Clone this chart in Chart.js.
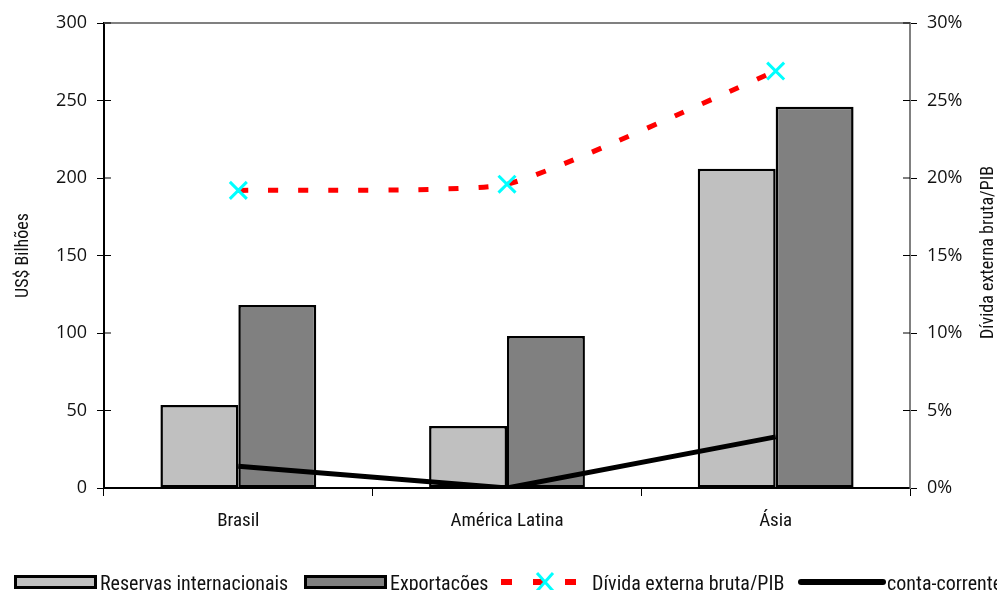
<!DOCTYPE html>
<html>
<head>
<meta charset="utf-8">
<script src="https://cdn.jsdelivr.net/npm/chart.js@4"></script>
<style>
  html, body { margin: 0; padding: 0; background: #fff; }
  #wrap { position: relative; width: 997px; height: 590px; overflow: hidden; }
  #legend { position: absolute; left: 0; top: 568px; height: 30px; width: 1100px; font-family: "Roboto Condensed", "Open Sans", sans-serif; font-size: 20px; color: #111; white-space: nowrap; }
  #legend .sym, #legend .txt { position: absolute; top: 0; }
  #legend .box { position: absolute; top: 7px; width: 83px; height: 14px; border: 3px solid #000; box-sizing: border-box; }
  #legend .txt { line-height: 26px; top: 2px; }
</style>
</head>
<body>
<div id="wrap">
  <canvas id="chart" width="997" height="590"></canvas>
  <div id="legend"></div>
</div>
<script>
const categories = ["Brasil", "América Latina", "Ásia"];
const reservas = [53.5, 40, 206];
const exportacoes = [118, 98, 246];
const dividaPib = [19.2, 19.6, 26.9];
const contaCorrente = [1.4, 0, 3.3];
const seriesNames = ["Reservas internacionais", "Exportações", "Dívida externa bruta/PIB", "conta-corrente"];
const yTitle = "US$ Bilhões";
const y2Title = "Dívida externa bruta/PIB";

const fontFamily = '"Roboto Condensed", "Open Sans", sans-serif';
const tickFont = { family: fontFamily, size: 19 };
const numFont = { family: '"Open Sans", sans-serif', size: 18 };

// tick marks crossing the axes, grey top border, right axis title (read bottom to top)
const frame = {
  id: "frame",
  afterDraw(chart) {
    const ctx = chart.ctx;
    const a = chart.chartArea;
    ctx.save();
    ctx.lineWidth = 2;
    ctx.strokeStyle = "#808080";
    ctx.beginPath();
    ctx.moveTo(a.left, a.top);
    ctx.lineTo(a.right, a.top);
    ctx.stroke();
    ctx.lineWidth = 1;
    ctx.strokeStyle = "#000";
    chart.scales.y.ticks.forEach(t => {
      const py = chart.scales.y.getPixelForValue(t.value);
      ctx.beginPath();
      ctx.moveTo(a.left, py);
      ctx.lineTo(a.left + 7, py);
      ctx.stroke();
    });
    chart.scales.y2.ticks.forEach(t => {
      const py = chart.scales.y2.getPixelForValue(t.value);
      ctx.beginPath();
      ctx.moveTo(a.right - 7, py);
      ctx.lineTo(a.right, py);
      ctx.stroke();
    });
    ctx.fillStyle = "#111";
    ctx.font = "18px " + fontFamily;
    ctx.textAlign = "center";
    ctx.textBaseline = "middle";
    ctx.translate(988, (a.top + a.bottom) / 2 - 3);
    ctx.rotate(-Math.PI / 2);
    ctx.fillText(y2Title, 0, 0);
    ctx.restore();
  }
};

new Chart(document.getElementById("chart").getContext("2d"), {
  type: "bar",
  data: {
    labels: categories,
    datasets: [
      {
        type: "line",
        label: seriesNames[3],
        data: contaCorrente,
        yAxisID: "y2",
        borderColor: "#000",
        borderWidth: 5,
        pointRadius: 0,
        tension: 0,
        order: 0
      },
      {
        type: "line",
        label: seriesNames[2],
        data: dividaPib,
        yAxisID: "y2",
        borderColor: "#ff0000",
        borderWidth: 5,
        borderDash: [10, 20],
        tension: 0.15,
        pointStyle: "crossRot",
        pointRadius: 12,
        pointBorderWidth: 3,
        pointBorderColor: "#00ffff",
        pointBackgroundColor: "#00ffff",
        order: 0
      },
      {
        label: seriesNames[0],
        data: reservas,
        backgroundColor: "#c0c0c0",
        borderColor: "#000",
        borderWidth: 2.5,
        borderSkipped: false,
        order: 1
      },
      {
        label: seriesNames[1],
        data: exportacoes,
        backgroundColor: "#808080",
        borderColor: "#000",
        borderWidth: 2.5,
        borderSkipped: false,
        order: 1
      }
    ]
  },
  options: {
    responsive: false,
    animation: false,
    layout: { padding: { top: 23, left: 0, right: 0, bottom: 0 } },
    datasets: { bar: { categoryPercentage: 0.58, barPercentage: 1 } },
    plugins: { legend: { display: false }, tooltip: { enabled: false } },
    scales: {
      x: {
        offset: true,
        grid: { offset: true, drawOnChartArea: false, tickLength: 8, color: "#000" },
        border: { color: "#000", width: 2 },
        ticks: { color: "#111", font: tickFont, padding: 14 },
        afterFit(s) { s.height = 102; }
      },
      y: {
        position: "left",
        min: 0, max: 300,
        ticks: { stepSize: 50, color: "#111", font: numFont, padding: 10 },
        grid: { drawOnChartArea: false, tickLength: 7, color: "#000" },
        border: { color: "#000", width: 2 },
        title: { display: true, text: yTitle, color: "#111", font: { family: fontFamily, size: 18 }, padding: { top: 13, bottom: 0 } },
        afterFit(s) { s.width = 104; }
      },
      y2: {
        position: "right",
        min: 0, max: 30,
        ticks: { stepSize: 5, color: "#111", font: numFont, padding: 10, callback: v => v + "%" },
        grid: { drawOnChartArea: false, tickLength: 7, color: "#000" },
        border: { color: "#808080", width: 2 },
        afterFit(s) { s.width = 87; }
      }
    }
  },
  plugins: [frame]
});

// legend: symbol and text positions as in the reference
const legend = document.getElementById("legend");
const legendItems = [
  { sym: '<div class="box" style="left:14px;background:#c0c0c0"></div>', x: 100 },
  { sym: '<div class="box" style="left:304px;background:#808080"></div>', x: 390 },
  { sym: '<svg class="sym" style="left:490px" width="96" height="28"><line x1="11" y1="14" x2="96" y2="14" stroke="#f00" stroke-width="6" stroke-dasharray="11 21"/><line x1="47" y1="5" x2="63" y2="23" stroke="#0ff" stroke-width="3"/><line x1="63" y1="5" x2="47" y2="23" stroke="#0ff" stroke-width="3"/></svg>', x: 592 },
  { sym: '<svg class="sym" style="left:797px" width="90" height="28"><line x1="4" y1="14" x2="86" y2="14" stroke="#000" stroke-width="6" stroke-linecap="round"/></svg>', x: 887 }
];
legendItems.forEach((it, i) => {
  legend.insertAdjacentHTML("beforeend", it.sym + '<span class="txt" style="left:' + it.x + 'px">' + seriesNames[i] + "</span>");
});
</script>
</body>
</html>
